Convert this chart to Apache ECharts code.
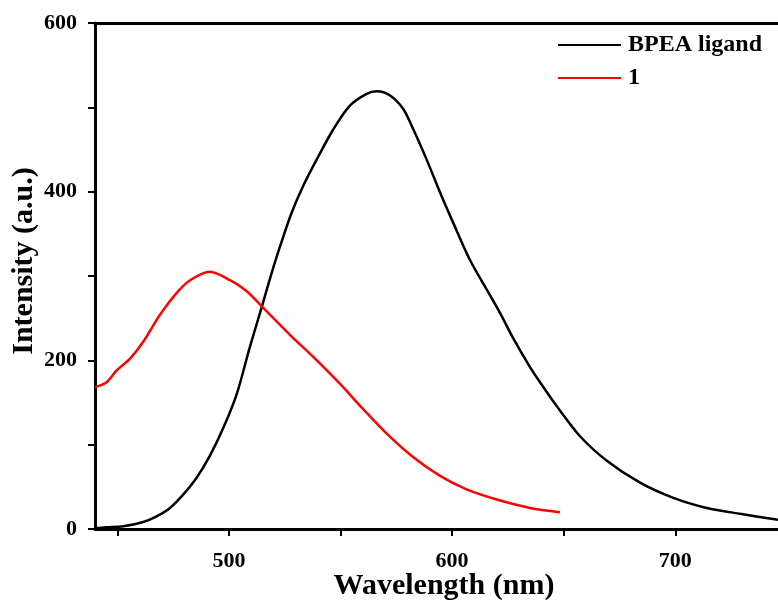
<!DOCTYPE html>
<html>
<head>
<meta charset="utf-8">
<script src="https://cdn.jsdelivr.net/npm/echarts@6/dist/echarts.min.js"></script>
<style>html,body{margin:0;padding:0;background:#fff}#c{width:778px;height:607px}</style>
</head>
<body>
<div id="c"></div>
<script>
var ligandX = [440,445,452.7,461.6,467.6,473.6,479.6,485.6,491.5,497.5,503.5,509.4,514.7,518.4,522.9,528.1,533.3,539.3,546.8,554.2,561.7,566.2,572.2,578.1,582.6,588.6,594.6,600.5,608,615.5,621.5,627.4,634.9,639.4,646.8,657.3,669.3,684.2,699.1,714.1,729,746];
var ligandY = [1,2,3.2,8.3,15,25,41,61,87,120,160,216,263,297,335,375,407,438,474,502,516,519,514,498,474,438,399,363,319,284,256,226,192,174,146,110,81,55,37,25,18,11];
var complexX = [440,445.2,449.7,455.7,461.6,469.1,476.6,482.6,491.5,500.5,508,514.7,522.9,527.4,537.8,549.8,560.2,570.7,582.6,594.6,606.5,620,634.9,648.3];
var complexY = [168,174,188,202,222,254,280,295,305,295,282,264,242,230,204,172,142,113,85,63,47,35,25,20];
var xTickLabels = [500,600,700];
var xTicks = [450,500,550,600,650,700];
var yTickLabels = [0,200,400,600];
var yTicks = [0,100,200,300,400,500,600];
var seriesNames = ['BPEA ligand','1'];

function pairs(xs, ys){ return xs.map(function(x,i){ return [x, ys[i]]; }); }
var FONT = '"Liberation Serif","Times New Roman",serif';
var chart = echarts.init(document.getElementById('c'));
chart.setOption({
  backgroundColor: '#fff',
  animation: false,
  grid: {left: 95, top: 23, right: 0, bottom: 78, containLabel: false, outerBoundsMode: 'none'},
  legend: {
    orient: 'vertical', left: 553, top: 28,
    icon: 'rect', itemWidth: 63, itemHeight: 2, itemGap: 9,
    textStyle: {fontFamily: FONT, fontWeight: 'bold', fontSize: 24, color: '#000', padding: [0,0,0,2]},
    data: seriesNames
  },
  xAxis: [{
    type: 'value', min: 440, max: 746,
    name: 'Wavelength (nm)', nameLocation: 'middle', nameGap: 42, nameMoveOverlap: false,
    nameTextStyle: {fontFamily: FONT, fontWeight: 'bold', fontSize: 30, color: '#000', padding: [0,0,0,15]},
    axisLine: {show: true, lineStyle: {color: '#000', width: 3}},
    axisTick: {show: true, length: 7, lineStyle: {color: '#000', width: 2}, customValues: xTicks},
    axisLabel: {customValues: xTickLabels, margin: 21, fontFamily: FONT, fontWeight: 'bold', fontSize: 22, color: '#000'},
    splitLine: {show: false}
  }, {
    type: 'value', min: 440, max: 746, position: 'top',
    axisLine: {show: true, onZero: false, lineStyle: {color: '#000', width: 3}},
    axisTick: {show: false}, axisLabel: {show: false}, splitLine: {show: false}
  }],
  yAxis: {
    type: 'value', min: 0, max: 600,
    name: 'Intensity (a.u.)', nameLocation: 'middle', nameGap: 56, nameMoveOverlap: false,
    nameTextStyle: {fontFamily: FONT, fontWeight: 'bold', fontSize: 30, color: '#000', padding: [0,0,0,30]},
    axisLine: {show: true, lineStyle: {color: '#000', width: 3}},
    axisTick: {show: true, length: 7, lineStyle: {color: '#000', width: 2}, customValues: yTicks},
    axisLabel: {customValues: yTickLabels, margin: 18, fontFamily: FONT, fontWeight: 'bold', fontSize: 22, color: '#000'},
    splitLine: {show: false}
  },
  series: [{
    name: seriesNames[0], type: 'line', symbol: 'none', smooth: 0.3,
    lineStyle: {color: '#000', width: 2.5}, itemStyle: {color: '#000'},
    data: pairs(ligandX, ligandY)
  }, {
    name: seriesNames[1], type: 'line', symbol: 'none', smooth: 0.3,
    lineStyle: {color: '#ff0000', width: 2.5}, itemStyle: {color: '#ff0000'},
    data: pairs(complexX, complexY)
  }]
});
</script>
</body>
</html>
